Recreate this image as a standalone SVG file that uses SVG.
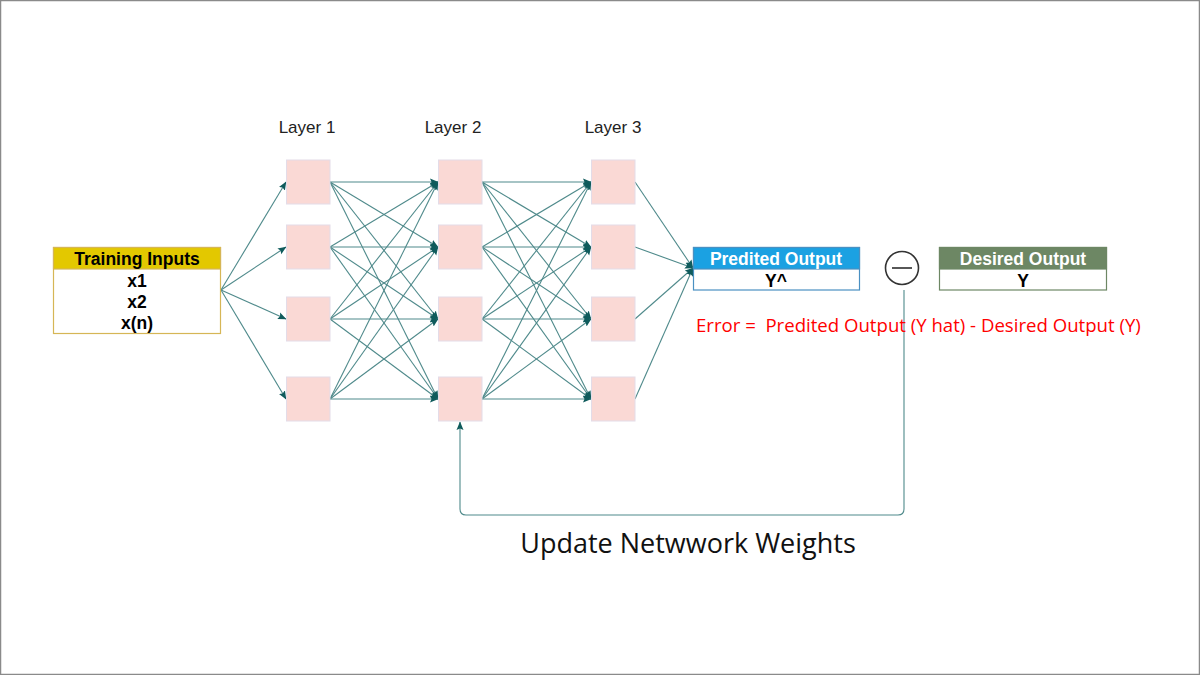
<svg xmlns="http://www.w3.org/2000/svg" width="1200" height="675" viewBox="0 0 1200 675">
<style>
.n{fill:#fad9d5;stroke:#e3dce8;stroke-width:1}
.e{stroke:#4f8a8b;stroke-width:1.1;fill:none}
.lbl{font-family:"Liberation Sans",Arial,sans-serif;font-size:17px;fill:#222}
.hd{font-family:"Liberation Sans",Arial,sans-serif;font-size:17.5px;font-weight:bold;text-anchor:middle}
.err{font-family:"Open Sans","Liberation Sans",sans-serif;font-size:18.6px;fill:#ff0000}
</style>
<defs>
<marker id="ah" markerWidth="9" markerHeight="8" refX="8" refY="4" orient="auto" markerUnits="userSpaceOnUse">
<path d="M0,0.5 L8.5,4 L0,7.5 L1.5,4 z" fill="#0f5b5c"/>
</marker>
</defs>
<rect x="0.5" y="0.5" width="1199" height="674" fill="#fff" stroke="#8a8a8a" stroke-width="1.5"/>

<g id="connectors">
<g class="e" marker-end="url(#ah)">
<line x1="221" y1="290" x2="286" y2="182"/>
<line x1="221" y1="290" x2="286" y2="247"/>
<line x1="221" y1="290" x2="286" y2="319"/>
<line x1="221" y1="290" x2="286" y2="399"/>

<line x1="330" y1="182" x2="438" y2="182"/><line x1="330" y1="182" x2="438" y2="247"/><line x1="330" y1="182" x2="438" y2="319"/><line x1="330" y1="182" x2="438" y2="399"/>
<line x1="330" y1="247" x2="438" y2="182"/><line x1="330" y1="247" x2="438" y2="247"/><line x1="330" y1="247" x2="438" y2="319"/><line x1="330" y1="247" x2="438" y2="399"/>
<line x1="330" y1="319" x2="438" y2="182"/><line x1="330" y1="319" x2="438" y2="247"/><line x1="330" y1="319" x2="438" y2="319"/><line x1="330" y1="319" x2="438" y2="399"/>
<line x1="330" y1="399" x2="438" y2="182"/><line x1="330" y1="399" x2="438" y2="247"/><line x1="330" y1="399" x2="438" y2="319"/><line x1="330" y1="399" x2="438" y2="399"/>

<line x1="482" y1="182" x2="591" y2="182"/><line x1="482" y1="182" x2="591" y2="247"/><line x1="482" y1="182" x2="591" y2="319"/><line x1="482" y1="182" x2="591" y2="399"/>
<line x1="482" y1="247" x2="591" y2="182"/><line x1="482" y1="247" x2="591" y2="247"/><line x1="482" y1="247" x2="591" y2="319"/><line x1="482" y1="247" x2="591" y2="399"/>
<line x1="482" y1="319" x2="591" y2="182"/><line x1="482" y1="319" x2="591" y2="247"/><line x1="482" y1="319" x2="591" y2="319"/><line x1="482" y1="319" x2="591" y2="399"/>
<line x1="482" y1="399" x2="591" y2="182"/><line x1="482" y1="399" x2="591" y2="247"/><line x1="482" y1="399" x2="591" y2="319"/><line x1="482" y1="399" x2="591" y2="399"/>

<line x1="635" y1="182" x2="693" y2="268"/>
<line x1="635" y1="247" x2="693" y2="268"/>
<line x1="635" y1="319" x2="693" y2="268"/>
<line x1="635" y1="399" x2="693" y2="268"/>

<path d="M904,290 L904,509 Q904,515 898,515 L466,515 Q460,515 460,509 L460,422"/>
</g>
</g>

<g id="training-inputs">
<rect x="53.5" y="247.5" width="167" height="86" fill="#fff" stroke="#d6b656" stroke-width="1.2"/>
<rect x="53.5" y="247.5" width="167" height="21.5" fill="#e3c800" stroke="#d6b656" stroke-width="1.2"/>
<text x="137" y="265" class="hd" fill="#000">Training Inputs</text>
<text x="137" y="287" class="hd" fill="#000">x1</text>
<text x="137" y="308" class="hd" fill="#000">x2</text>
<text x="137" y="329" class="hd" fill="#000">x(n)</text>
</g>

<g id="layer-labels">
<text x="307" y="133" class="lbl" text-anchor="middle">Layer 1</text>
<text x="453" y="133" class="lbl" text-anchor="middle">Layer 2</text>
<text x="613" y="133" class="lbl" text-anchor="middle">Layer 3</text>
</g>

<g id="layer1">
<rect id="l1n1" class="n" x="286.5" y="160" width="43.5" height="44"/>
<rect id="l1n2" class="n" x="286.5" y="225" width="43.5" height="44"/>
<rect id="l1n3" class="n" x="286.5" y="297" width="43.5" height="44"/>
<rect id="l1n4" class="n" x="286.5" y="377" width="43.5" height="44"/>
</g>
<g id="layer2">
<rect id="l2n1" class="n" x="438.5" y="160" width="43.5" height="44"/>
<rect id="l2n2" class="n" x="438.5" y="225" width="43.5" height="44"/>
<rect id="l2n3" class="n" x="438.5" y="297" width="43.5" height="44"/>
<rect id="l2n4" class="n" x="438.5" y="377" width="43.5" height="44"/>
</g>
<g id="layer3">
<rect id="l3n1" class="n" x="591.5" y="160" width="43.5" height="44"/>
<rect id="l3n2" class="n" x="591.5" y="225" width="43.5" height="44"/>
<rect id="l3n3" class="n" x="591.5" y="297" width="43.5" height="44"/>
<rect id="l3n4" class="n" x="591.5" y="377" width="43.5" height="44"/>
</g>

<g id="predicted-output">
<rect x="693.5" y="247.5" width="166" height="42.5" fill="#fff" stroke="#4a90c2" stroke-width="1.2"/>
<rect x="693.5" y="247.5" width="166" height="21.5" fill="#1ba1e2" stroke="#4a90c2" stroke-width="1.2"/>
<text x="776" y="265" class="hd" fill="#fff">Predited Output</text>
<text x="776" y="287" class="hd" fill="#000">Y^</text>
</g>

<g id="minus">
<circle cx="902" cy="268" r="16.5" fill="#fff" stroke="#333" stroke-width="1.6"/>
<line x1="892" y1="268" x2="912" y2="268" stroke="#444" stroke-width="1.8"/>
</g>

<g id="desired-output">
<rect x="939.5" y="247.5" width="167" height="42.5" fill="#fff" stroke="#6d8764" stroke-width="1.2"/>
<rect x="939.5" y="247.5" width="167" height="21.5" fill="#6d8764" stroke="#6d8764" stroke-width="1.2"/>
<text x="1023" y="265" class="hd" fill="#fff">Desired Output</text>
<text x="1023" y="287" class="hd" fill="#000">Y</text>
</g>

<g id="error-text">
<text x="696" y="332" class="err" xml:space="preserve">Error =  Predited Output (Y hat) - Desired Output (Y)</text>
</g>

<g id="update-label">
<text x="688" y="553" font-family="'Open Sans','Liberation Sans',sans-serif" font-size="27" fill="#111" text-anchor="middle">Update Netwwork Weights</text>
</g>
</svg>
